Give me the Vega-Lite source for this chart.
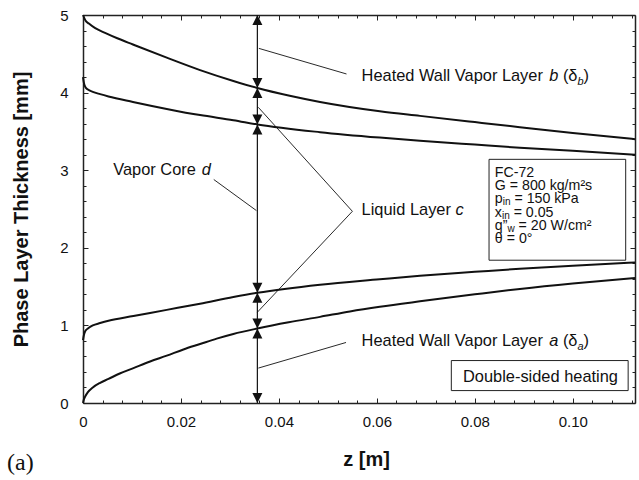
{
  "$schema": "https://vega.github.io/schema/vega-lite/v6.json",
  "width": 552,
  "height": 388,
  "autosize": {"type": "none"},
  "padding": {"left": 83, "top": 15, "right": 4, "bottom": 77},
  "background": "white",
  "config": {
    "view": {"stroke": null},
    "axis": {
      "grid": false,
      "domainColor": "#222",
      "domainWidth": 1.5,
      "tickColor": "#222",
      "tickWidth": 1,
      "labelFont": "Liberation Sans",
      "labelFontSize": 15,
      "labelColor": "#111",
      "labelFlush": false,
      "labelOverlap": false,
      "titleFont": "Liberation Sans",
      "titleFontSize": 20,
      "titleFontWeight": "bold",
      "titleColor": "#111"
    },
    "text": {"font": "Liberation Sans", "color": "#111", "align": "left", "baseline": "alphabetic"}
  },
  "datasets": {
    "layers": [
      {"s": "b", "z": 0, "v": 5.0}, {"s": "b", "z": 0.0005, "v": 4.93}, {"s": "b", "z": 0.0012, "v": 4.89},
      {"s": "b", "z": 0.0025, "v": 4.83}, {"s": "b", "z": 0.0045, "v": 4.77}, {"s": "b", "z": 0.007, "v": 4.70},
      {"s": "b", "z": 0.0102, "v": 4.62}, {"s": "b", "z": 0.0171, "v": 4.45}, {"s": "b", "z": 0.0239, "v": 4.29},
      {"s": "b", "z": 0.0307, "v": 4.15}, {"s": "b", "z": 0.0356, "v": 4.06}, {"s": "b", "z": 0.0422, "v": 3.96},
      {"s": "b", "z": 0.0484, "v": 3.88}, {"s": "b", "z": 0.0606, "v": 3.76}, {"s": "b", "z": 0.0688, "v": 3.70},
      {"s": "b", "z": 0.08, "v": 3.62}, {"s": "b", "z": 0.0892, "v": 3.555}, {"s": "b", "z": 0.1, "v": 3.48},
      {"s": "b", "z": 0.1127, "v": 3.40},
      {"s": "cu", "z": 0, "v": 4.20}, {"s": "cu", "z": 0.0002, "v": 4.12}, {"s": "cu", "z": 0.0005, "v": 4.07},
      {"s": "cu", "z": 0.001, "v": 4.04}, {"s": "cu", "z": 0.002, "v": 4.01}, {"s": "cu", "z": 0.0035, "v": 3.98},
      {"s": "cu", "z": 0.0052, "v": 3.95}, {"s": "cu", "z": 0.0102, "v": 3.88}, {"s": "cu", "z": 0.0171, "v": 3.79},
      {"s": "cu", "z": 0.0239, "v": 3.71}, {"s": "cu", "z": 0.0307, "v": 3.645}, {"s": "cu", "z": 0.0356, "v": 3.59},
      {"s": "cu", "z": 0.0484, "v": 3.49}, {"s": "cu", "z": 0.0606, "v": 3.42}, {"s": "cu", "z": 0.0688, "v": 3.38},
      {"s": "cu", "z": 0.08, "v": 3.33}, {"s": "cu", "z": 0.0892, "v": 3.29}, {"s": "cu", "z": 0.1, "v": 3.25},
      {"s": "cu", "z": 0.1127, "v": 3.20},
      {"s": "cl", "z": 0, "v": 0.81}, {"s": "cl", "z": 0.0002, "v": 0.88}, {"s": "cl", "z": 0.0005, "v": 0.93},
      {"s": "cl", "z": 0.001, "v": 0.96}, {"s": "cl", "z": 0.002, "v": 1.00}, {"s": "cl", "z": 0.0035, "v": 1.03},
      {"s": "cl", "z": 0.0052, "v": 1.06}, {"s": "cl", "z": 0.0103, "v": 1.12}, {"s": "cl", "z": 0.0171, "v": 1.20},
      {"s": "cl", "z": 0.0239, "v": 1.28}, {"s": "cl", "z": 0.0307, "v": 1.365}, {"s": "cl", "z": 0.0356, "v": 1.42},
      {"s": "cl", "z": 0.0484, "v": 1.525}, {"s": "cl", "z": 0.0606, "v": 1.595}, {"s": "cl", "z": 0.0688, "v": 1.64},
      {"s": "cl", "z": 0.08, "v": 1.69}, {"s": "cl", "z": 0.0892, "v": 1.73}, {"s": "cl", "z": 0.1, "v": 1.77},
      {"s": "cl", "z": 0.1127, "v": 1.81},
      {"s": "a", "z": 0, "v": 0}, {"s": "a", "z": 0.0002, "v": 0.05}, {"s": "a", "z": 0.0005, "v": 0.09},
      {"s": "a", "z": 0.001, "v": 0.14}, {"s": "a", "z": 0.002, "v": 0.20}, {"s": "a", "z": 0.0035, "v": 0.26},
      {"s": "a", "z": 0.0052, "v": 0.31}, {"s": "a", "z": 0.0075, "v": 0.38}, {"s": "a", "z": 0.0103, "v": 0.45},
      {"s": "a", "z": 0.0137, "v": 0.535}, {"s": "a", "z": 0.0171, "v": 0.61}, {"s": "a", "z": 0.0205, "v": 0.69},
      {"s": "a", "z": 0.0239, "v": 0.76}, {"s": "a", "z": 0.0273, "v": 0.83}, {"s": "a", "z": 0.0307, "v": 0.89},
      {"s": "a", "z": 0.0356, "v": 0.96}, {"s": "a", "z": 0.042, "v": 1.04}, {"s": "a", "z": 0.0484, "v": 1.11},
      {"s": "a", "z": 0.0545, "v": 1.18}, {"s": "a", "z": 0.0606, "v": 1.24}, {"s": "a", "z": 0.0688, "v": 1.31},
      {"s": "a", "z": 0.08, "v": 1.40}, {"s": "a", "z": 0.0892, "v": 1.47}, {"s": "a", "z": 0.1, "v": 1.54},
      {"s": "a", "z": 0.1127, "v": 1.61}
    ],
    "section": [{"z": 0.0356, "v0": 0, "v1": 5}],
    "tipsUp": [{"z": 0.0356, "v": 5}, {"z": 0.0356, "v": 4.06}, {"z": 0.0356, "v": 3.59}, {"z": 0.0356, "v": 1.42}, {"z": 0.0356, "v": 0.96}],
    "tipsDown": [{"z": 0.0356, "v": 4.06}, {"z": 0.0356, "v": 3.59}, {"z": 0.0356, "v": 1.42}, {"z": 0.0356, "v": 0.96}, {"z": 0.0356, "v": 0}],
    "leaders": [
      {"id": "b", "k": 1, "z": 0.0359, "v": 4.57}, {"id": "b", "k": 2, "z": 0.0538, "v": 4.24},
      {"id": "d", "k": 1, "z": 0.0267, "v": 2.88}, {"id": "d", "k": 2, "z": 0.0354, "v": 2.48},
      {"id": "c", "k": 1, "z": 0.0358, "v": 3.81}, {"id": "c", "k": 2, "z": 0.055, "v": 2.47}, {"id": "c", "k": 3, "z": 0.0356, "v": 1.17},
      {"id": "a", "k": 1, "z": 0.0358, "v": 0.45}, {"id": "a", "k": 2, "z": 0.0537, "v": 0.78}
    ],
    "boxes": [
      {"z1": 0.0829, "z2": 0.1108, "v1": 3.14, "v2": 1.84},
      {"z1": 0.0752, "z2": 0.1113, "v1": 0.547, "v2": 0.16}
    ],
    "labels": [
      {"t": "Heated Wall Vapor Layer", "z": 0.05688, "v": 4.15},
      {"t": "(δ", "z": 0.09798, "v": 4.15},
      {"t": ")", "z": 0.1022, "v": 4.15},
      {"t": "Heated Wall Vapor Layer", "z": 0.05688, "v": 0.735},
      {"t": "(δ", "z": 0.09798, "v": 0.735},
      {"t": ")", "z": 0.1022, "v": 0.735},
      {"t": "Vapor Core", "z": 0.00618, "v": 2.94},
      {"t": "Liquid Layer", "z": 0.05688, "v": 2.42}
    ],
    "italics": [
      {"t": "b", "z": 0.0952, "v": 4.15},
      {"t": "a", "z": 0.0952, "v": 0.735},
      {"t": "d", "z": 0.02422, "v": 2.94},
      {"t": "c", "z": 0.07604, "v": 2.42}
    ],
    "italicSubs": [
      {"t": "b", "z": 0.10096, "v": 4.1},
      {"t": "a", "z": 0.10096, "v": 0.685}
    ],
    "conditions": [
      {"t": "FC-72", "z": 0.08408, "v": 2.91},
      {"t": "G = 800 kg/m²s", "z": 0.08408, "v": 2.745},
      {"t": "p", "z": 0.08408, "v": 2.574},
      {"t": "= 150 kPa", "z": 0.08808, "v": 2.574},
      {"t": "x", "z": 0.08408, "v": 2.40},
      {"t": "= 0.05", "z": 0.08792, "v": 2.40},
      {"t": "q”", "z": 0.08408, "v": 2.229},
      {"t": "= 20 W/cm²", "z": 0.08894, "v": 2.229},
      {"t": "θ = 0°", "z": 0.08408, "v": 2.058}
    ],
    "conditionSubs": [
      {"t": "in", "z": 0.08569, "v": 2.546},
      {"t": "in", "z": 0.08553, "v": 2.372},
      {"t": "w", "z": 0.08666, "v": 2.201}
    ],
    "mode": [{"t": "Double-sided heating", "z": 0.0934, "v": 0.274}],
    "panel": [{"t": "(a)", "z": -0.0155, "v": -0.863}]
  },
  "resolve": {"axis": {"x": "independent", "y": "independent"}},
  "layer": [
    {
      "data": {"name": "layers"},
      "mark": {"type": "line", "color": "#111", "strokeWidth": 2, "interpolate": "monotone"},
      "encoding": {
        "x": {
          "field": "z", "type": "quantitative",
          "scale": {"domain": [0, 0.1127], "nice": false, "zero": false},
          "axis": {
            "orient": "bottom", "values": [0, 0.02, 0.04, 0.06, 0.08, 0.1],
            "labelExpr": "datum.value == 0 ? '0' : format(datum.value, '.2f')",
            "tickSize": -5, "labelPadding": 16,
            "title": "z [m]", "titlePadding": 20, "titleX": 283
          }
        },
        "y": {
          "field": "v", "type": "quantitative",
          "scale": {"domain": [0, 5], "nice": false, "zero": false},
          "axis": {
            "orient": "left", "values": [0, 1, 2, 3, 4, 5], "format": "d",
            "tickSize": -5, "labelPadding": 20,
            "title": "Phase Layer Thickness [mm]", "titlePadding": 28
          }
        },
        "detail": {"field": "s"}
      }
    },
    {
      "data": {"name": "section"},
      "mark": {"type": "rule", "color": "#111", "strokeWidth": 1.2},
      "encoding": {
        "x": {
          "field": "z", "type": "quantitative",
          "scale": {"domain": [0, 0.1127], "nice": false, "zero": false},
          "axis": {
            "orient": "bottom", "labels": false, "domain": false, "title": null, "tickSize": -3,
            "values": [0.004, 0.008, 0.012, 0.016, 0.024, 0.028, 0.032, 0.036, 0.044, 0.048, 0.052, 0.056, 0.064, 0.068, 0.072, 0.076, 0.084, 0.088, 0.092, 0.096, 0.104, 0.108, 0.112]
          }
        },
        "y": {
          "field": "v0", "type": "quantitative",
          "scale": {"domain": [0, 5], "nice": false, "zero": false},
          "axis": {
            "orient": "left", "labels": false, "domain": false, "title": null, "tickSize": -3,
            "values": [0.2, 0.4, 0.6, 0.8, 1.2, 1.4, 1.6, 1.8, 2.2, 2.4, 2.6, 2.8, 3.2, 3.4, 3.6, 3.8, 4.2, 4.4, 4.6, 4.8]
          }
        },
        "y2": {"field": "v1"}
      }
    },
    {
      "data": {"name": "leaders"},
      "mark": {"type": "line", "color": "#111", "strokeWidth": 0.9},
      "encoding": {
        "x": {
          "field": "z", "type": "quantitative",
          "scale": {"domain": [0, 0.1127], "nice": false, "zero": false},
          "axis": {"orient": "top", "labels": false, "title": null, "tickSize": -5, "values": [0, 0.02, 0.04, 0.06, 0.08, 0.1]}
        },
        "y": {
          "field": "v", "type": "quantitative",
          "scale": {"domain": [0, 5], "nice": false, "zero": false},
          "axis": {"orient": "right", "labels": false, "title": null, "tickSize": -5, "values": [0, 1, 2, 3, 4, 5]}
        },
        "detail": {"field": "id"},
        "order": {"field": "k"}
      }
    },
    {
      "data": {"name": "tipsUp"},
      "mark": {"type": "point", "shape": "M0,0L-1,2L1,2Z", "size": 100, "filled": true, "color": "#111", "opacity": 1},
      "encoding": {
        "x": {
          "field": "z", "type": "quantitative",
          "scale": {"domain": [0, 0.1127], "nice": false, "zero": false},
          "axis": {
            "orient": "top", "labels": false, "domain": false, "title": null, "tickSize": -3,
            "values": [0.004, 0.008, 0.012, 0.016, 0.024, 0.028, 0.032, 0.036, 0.044, 0.048, 0.052, 0.056, 0.064, 0.068, 0.072, 0.076, 0.084, 0.088, 0.092, 0.096, 0.104, 0.108, 0.112]
          }
        },
        "y": {
          "field": "v", "type": "quantitative",
          "scale": {"domain": [0, 5], "nice": false, "zero": false},
          "axis": {
            "orient": "right", "labels": false, "domain": false, "title": null, "tickSize": -3,
            "values": [0.2, 0.4, 0.6, 0.8, 1.2, 1.4, 1.6, 1.8, 2.2, 2.4, 2.6, 2.8, 3.2, 3.4, 3.6, 3.8, 4.2, 4.4, 4.6, 4.8]
          }
        }
      }
    },
    {
      "data": {"name": "tipsDown"},
      "mark": {"type": "point", "shape": "M0,0L-1,-2L1,-2Z", "size": 100, "filled": true, "color": "#111", "opacity": 1},
      "encoding": {
        "x": {"field": "z", "type": "quantitative", "scale": {"domain": [0, 0.1127], "nice": false, "zero": false}, "axis": null},
        "y": {"field": "v", "type": "quantitative", "scale": {"domain": [0, 5], "nice": false, "zero": false}, "axis": null}
      }
    },
    {
      "data": {"name": "boxes"},
      "mark": {"type": "rect", "fill": "white", "stroke": "#222", "strokeWidth": 1},
      "encoding": {
        "x": {"field": "z1", "type": "quantitative", "scale": {"domain": [0, 0.1127], "nice": false, "zero": false}, "axis": null},
        "x2": {"field": "z2"},
        "y": {"field": "v1", "type": "quantitative", "scale": {"domain": [0, 5], "nice": false, "zero": false}, "axis": null},
        "y2": {"field": "v2"}
      }
    },
    {
      "data": {"name": "labels"},
      "mark": {"type": "text", "fontSize": 16.4},
      "encoding": {
        "x": {"field": "z", "type": "quantitative", "scale": {"domain": [0, 0.1127], "nice": false, "zero": false}, "axis": null},
        "y": {"field": "v", "type": "quantitative", "scale": {"domain": [0, 5], "nice": false, "zero": false}, "axis": null},
        "text": {"field": "t"}
      }
    },
    {
      "data": {"name": "italics"},
      "mark": {"type": "text", "fontSize": 16.4, "fontStyle": "italic"},
      "encoding": {
        "x": {"field": "z", "type": "quantitative", "scale": {"domain": [0, 0.1127], "nice": false, "zero": false}, "axis": null},
        "y": {"field": "v", "type": "quantitative", "scale": {"domain": [0, 5], "nice": false, "zero": false}, "axis": null},
        "text": {"field": "t"}
      }
    },
    {
      "data": {"name": "italicSubs"},
      "mark": {"type": "text", "fontSize": 11, "fontStyle": "italic"},
      "encoding": {
        "x": {"field": "z", "type": "quantitative", "scale": {"domain": [0, 0.1127], "nice": false, "zero": false}, "axis": null},
        "y": {"field": "v", "type": "quantitative", "scale": {"domain": [0, 5], "nice": false, "zero": false}, "axis": null},
        "text": {"field": "t"}
      }
    },
    {
      "data": {"name": "conditions"},
      "mark": {"type": "text", "fontSize": 14.2},
      "encoding": {
        "x": {"field": "z", "type": "quantitative", "scale": {"domain": [0, 0.1127], "nice": false, "zero": false}, "axis": null},
        "y": {"field": "v", "type": "quantitative", "scale": {"domain": [0, 5], "nice": false, "zero": false}, "axis": null},
        "text": {"field": "t"}
      }
    },
    {
      "data": {"name": "conditionSubs"},
      "mark": {"type": "text", "fontSize": 10},
      "encoding": {
        "x": {"field": "z", "type": "quantitative", "scale": {"domain": [0, 0.1127], "nice": false, "zero": false}, "axis": null},
        "y": {"field": "v", "type": "quantitative", "scale": {"domain": [0, 5], "nice": false, "zero": false}, "axis": null},
        "text": {"field": "t"}
      }
    },
    {
      "data": {"name": "mode"},
      "mark": {"type": "text", "fontSize": 16.4, "align": "center"},
      "encoding": {
        "x": {"field": "z", "type": "quantitative", "scale": {"domain": [0, 0.1127], "nice": false, "zero": false}, "axis": null},
        "y": {"field": "v", "type": "quantitative", "scale": {"domain": [0, 5], "nice": false, "zero": false}, "axis": null},
        "text": {"field": "t"}
      }
    },
    {
      "data": {"name": "panel"},
      "mark": {"type": "text", "fontSize": 24, "font": "Liberation Serif"},
      "encoding": {
        "x": {"field": "z", "type": "quantitative", "scale": {"domain": [0, 0.1127], "nice": false, "zero": false}, "axis": null},
        "y": {"field": "v", "type": "quantitative", "scale": {"domain": [0, 5], "nice": false, "zero": false}, "axis": null},
        "text": {"field": "t"}
      }
    }
  ]
}
